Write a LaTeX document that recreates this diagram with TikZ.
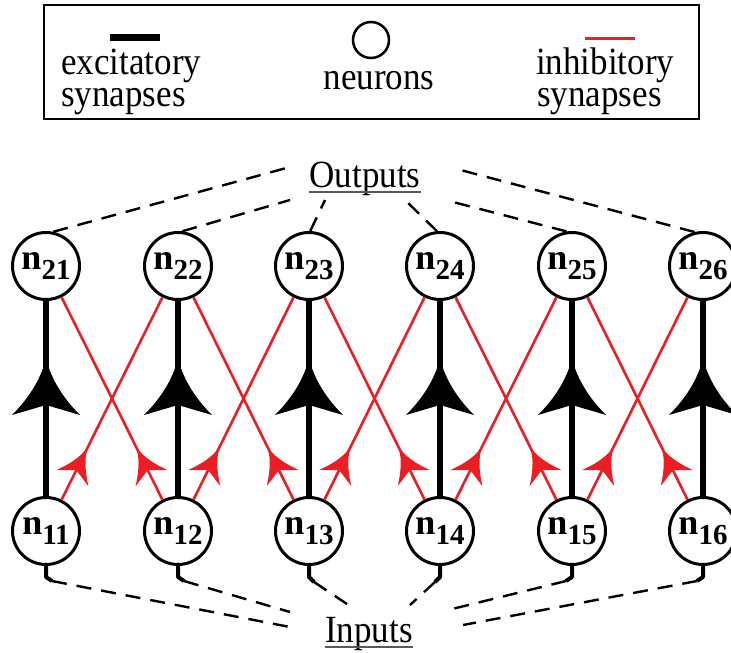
\documentclass[tikz,border=0pt]{standalone}
\usepackage{fontspec}
\setmainfont{Liberation Serif}
\usetikzlibrary{decorations.markings}

\definecolor{inhib}{RGB}{236,30,36}

% neuron label: bold n with a numeric subscript
\newcommand{\nlab}[1]{{\fontsize{36}{36}\selectfont\bfseries n}\raisebox{-10pt}{\fontsize{29}{29}\selectfont\bfseries #1}}
\newcommand{\legtext}{\fontsize{35}{35}\selectfont}
\newcommand{\tall}[1]{\scalebox{1}[1.1]{#1}}

\tikzset{
  neuron/.style={circle, draw, line width=3pt, minimum size=67pt, inner sep=0pt},
  excite/.style={line width=6pt, postaction={decorate},
    decoration={markings, mark=at position 137pt with {
      \fill (0pt,0pt) .. controls (-22pt,6pt) and (-40pt,18pt) .. (-56pt,34pt)
        -- (-46pt,0pt) -- (-56pt,-34pt)
        .. controls (-40pt,-18pt) and (-22pt,-6pt) .. cycle;}}},
  inhibit/.style={draw=inhib, line width=2.6pt, postaction={decorate},
    decoration={markings, mark=at position 58pt with {
      \fill[inhib] (0pt,0pt) .. controls (-14pt,3pt) and (-24pt,10pt) .. (-34pt,18pt)
        -- (-25pt,0pt) -- (-34pt,-18pt)
        .. controls (-24pt,-10pt) and (-14pt,-3pt) .. cycle;}}},
  link/.style={line width=2.4pt, dash pattern=on 15pt off 10pt},
  stub/.style={line width=4pt, line join=round},
  label/.style={font=\legtext, inner sep=0pt},
  upper/.style={text depth=4pt},
  lower/.style={text height=20pt}
}

\begin{document}
\begin{tikzpicture}[x=1pt, y=-1pt]
\useasboundingbox (0,0) rectangle (731,653);

% legend
\draw[line width=2.8pt] (44,5) rectangle (699,119);
\draw[line width=7pt] (110,37.5) -- (160,37.5);
\node[label, upper, anchor=base west] (lexc) at (61,74) {\tall{excitatory}};
\node[label, lower, anchor=base west] (lsyn1) at (61,106) {\tall{synapses}};
\draw[line width=2.5pt] (371,40) circle (18);
\node[label, anchor=base] (lneu) at (379,89) {\tall{neurons}};
\draw[inhib, line width=3pt] (585,38) -- (635,38);
\node[label, upper, anchor=base west] (linh) at (536,74) {\tall{inhibitory}};
\node[label, lower, anchor=base west] (lsyn2) at (537,106) {\tall{synapses}};

% neurons
\foreach \i/\x in {1/46, 2/178, 3/309, 4/440, 5/572, 6/703} {
  \node[neuron] (n2\i) at (\x,266) {\nlab{2\i}};
  \node[neuron] (n1\i) at (\x,531) {\nlab{1\i}};
}

% excitatory synapses
\foreach \i in {1,...,6} \draw[excite] (n1\i) -- (n2\i);

% inhibitory synapses
\foreach \i/\j in {1/2, 2/3, 3/4, 4/5, 5/6} {
  \draw[inhibit] (n1\i) -- (n2\j);
  \draw[inhibit] (n1\j) -- (n2\i);
}

% outputs
\node[label, anchor=base] (out) at (365,187) {\tall{Outputs}};
\draw[line width=1.6pt, gray!70!black] ([yshift=-5pt]out.base west) -- ([yshift=-5pt]out.base east);
\coordinate (o1) at (290,167);
\coordinate (o2) at (290,200);
\coordinate (o3) at (325,200);
\coordinate (o4) at (405,200);
\coordinate (o5) at (453,202);
\coordinate (o6) at (453,168);
\draw[link] (n21.78) -- (o1);
\draw[link] (n22.83) -- (o2);
\draw[link] (n23.88) -- (o3);
\draw[link] (n24.95) -- (o4);
\draw[link] (n25.99) -- (o5);
\draw[link] (n26.104) -- (o6);

% inputs
\node[label, anchor=base] (in) at (369,642) {\tall{Inputs}};
\draw[line width=1.6pt, gray!70!black] ([yshift=-5pt]in.base west) -- ([yshift=-5pt]in.base east);
\coordinate (i1) at (290,627);
\coordinate (i2) at (290,612);
\coordinate (i3) at (347,604);
\coordinate (i4) at (410,605);
\coordinate (i5) at (448,610);
\coordinate (i6) at (463,625);
\draw[stub] (n11.south) -- ++(0,11) -- ++(6,4) coordinate (s1);
\draw[stub] (n12.south) -- ++(0,11) -- ++(6,4) coordinate (s2);
\draw[stub] (n13.south) -- ++(0,11) -- ++(5,5) coordinate (s3);
\draw[stub] (n14.south) -- ++(0,11) -- ++(-5,5) coordinate (s4);
\draw[stub] (n15.south) -- ++(0,11) -- ++(-6,4) coordinate (s5);
\draw[stub] (n16.south) -- ++(0,11) -- ++(-6,4) coordinate (s6);
\foreach \k in {1,...,6} \draw[link] (s\k) -- (i\k);
\end{tikzpicture}
\end{document}
